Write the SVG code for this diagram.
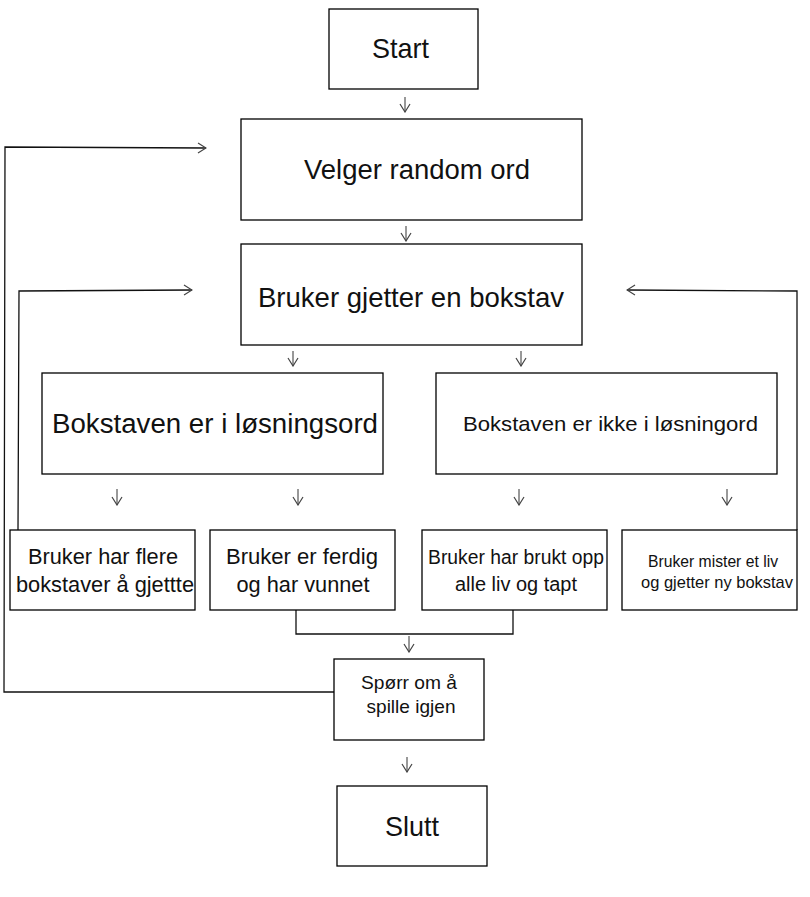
<svg xmlns="http://www.w3.org/2000/svg" width="810" height="897" viewBox="0 0 810 897">
<style>
.box{fill:#fff;stroke:#000;stroke-width:1.3}
.t{font-family:"Liberation Sans",Arial,sans-serif;fill:#111;text-anchor:middle}
.c{fill:none;stroke:#111;stroke-width:1.3}
.a{fill:none;stroke:#333;stroke-width:1}
</style>
<defs>
<marker id="chev" viewBox="0 0 10 12" refX="9" refY="6" markerWidth="10" markerHeight="12" markerUnits="userSpaceOnUse" orient="auto">
<path d="M1,1 L9,6 L1,11" fill="none" stroke="#444" stroke-width="1.2"/>
</marker>
</defs>
<rect width="810" height="897" fill="#fff"/>
<g id="connectors">
<line class="a" x1="405" y1="97" x2="405" y2="112" marker-end="url(#chev)"/>
<line class="a" x1="406" y1="226" x2="406" y2="241" marker-end="url(#chev)"/>
<line class="a" x1="293" y1="351" x2="293" y2="366" marker-end="url(#chev)"/>
<line class="a" x1="521" y1="351" x2="521" y2="366" marker-end="url(#chev)"/>
<line class="a" x1="117" y1="489" x2="117" y2="505" marker-end="url(#chev)"/>
<line class="a" x1="298" y1="489" x2="298" y2="505" marker-end="url(#chev)"/>
<line class="a" x1="519" y1="489" x2="519" y2="505" marker-end="url(#chev)"/>
<line class="a" x1="727" y1="489" x2="727" y2="505" marker-end="url(#chev)"/>
<polyline class="c" points="296,610 296,634 513,634 513,610"/>
<line class="a" x1="409" y1="636" x2="409" y2="652" marker-end="url(#chev)"/>
<line class="a" x1="407" y1="757" x2="407" y2="772" marker-end="url(#chev)"/>
<polyline class="c" points="334,692 4,692 5,147 206,148" marker-end="url(#chev)"/>
<polyline class="c" points="18,530 19,291 192,290" marker-end="url(#chev)"/>
<polyline class="c" points="797,530 797,291 627,290" marker-end="url(#chev)"/>
</g>
<g id="start">
<rect class="box" x="329" y="9" width="149" height="80"/>
<text class="t" x="400.5" y="58" font-size="28" textLength="57" lengthAdjust="spacingAndGlyphs">Start</text>
</g>
<g id="velger">
<rect class="box" x="241" y="119" width="341" height="101"/>
<text class="t" x="417" y="179" font-size="27" textLength="226" lengthAdjust="spacingAndGlyphs">Velger random ord</text>
</g>
<g id="gjetter">
<rect class="box" x="241" y="244" width="341" height="101"/>
<text class="t" x="411" y="307" font-size="28" textLength="306" lengthAdjust="spacingAndGlyphs">Bruker gjetter en bokstav</text>
</g>
<g id="iord">
<rect class="box" x="42" y="373" width="341" height="101"/>
<text class="t" x="215" y="433" font-size="27" textLength="326" lengthAdjust="spacingAndGlyphs">Bokstaven er i løsningsord</text>
</g>
<g id="ikkeiord">
<rect class="box" x="436" y="373" width="341" height="101"/>
<text class="t" x="610.5" y="431" font-size="21" textLength="295" lengthAdjust="spacingAndGlyphs">Bokstaven er ikke i løsningord</text>
</g>
<g id="flere">
<rect class="box" x="10" y="530" width="185" height="80"/>
<text class="t" font-size="22"><tspan x="103" y="564" textLength="150" lengthAdjust="spacingAndGlyphs">Bruker har flere</tspan><tspan x="105" y="592" textLength="178" lengthAdjust="spacingAndGlyphs">bokstaver å gjettte</tspan></text>
</g>
<g id="vunnet">
<rect class="box" x="210" y="530" width="185" height="80"/>
<text class="t" font-size="22"><tspan x="302" y="564" textLength="152" lengthAdjust="spacingAndGlyphs">Bruker er ferdig</tspan><tspan x="303" y="592" textLength="133" lengthAdjust="spacingAndGlyphs">og har vunnet</tspan></text>
</g>
<g id="tapt">
<rect class="box" x="422" y="530" width="185" height="80"/>
<text class="t" font-size="20"><tspan x="516" y="564" textLength="176" lengthAdjust="spacingAndGlyphs">Bruker har brukt opp</tspan><tspan x="516" y="591" textLength="122" lengthAdjust="spacingAndGlyphs">alle liv og tapt</tspan></text>
</g>
<g id="mister">
<rect class="box" x="622" y="530" width="175" height="80"/>
<text class="t" font-size="17"><tspan x="713" y="567" textLength="130" lengthAdjust="spacingAndGlyphs">Bruker mister et liv</tspan><tspan x="717" y="588" textLength="152" lengthAdjust="spacingAndGlyphs">og gjetter ny bokstav</tspan></text>
</g>
<g id="sporr">
<rect class="box" x="334" y="659" width="150" height="81"/>
<text class="t" font-size="19"><tspan x="409" y="689" textLength="96" lengthAdjust="spacingAndGlyphs">Spørr om å</tspan><tspan x="411" y="713" textLength="89" lengthAdjust="spacingAndGlyphs">spille igjen</tspan></text>
</g>
<g id="slutt">
<rect class="box" x="337" y="786" width="150" height="80"/>
<text class="t" x="412" y="836" font-size="28" textLength="54" lengthAdjust="spacingAndGlyphs">Slutt</text>
</g>
</svg>
